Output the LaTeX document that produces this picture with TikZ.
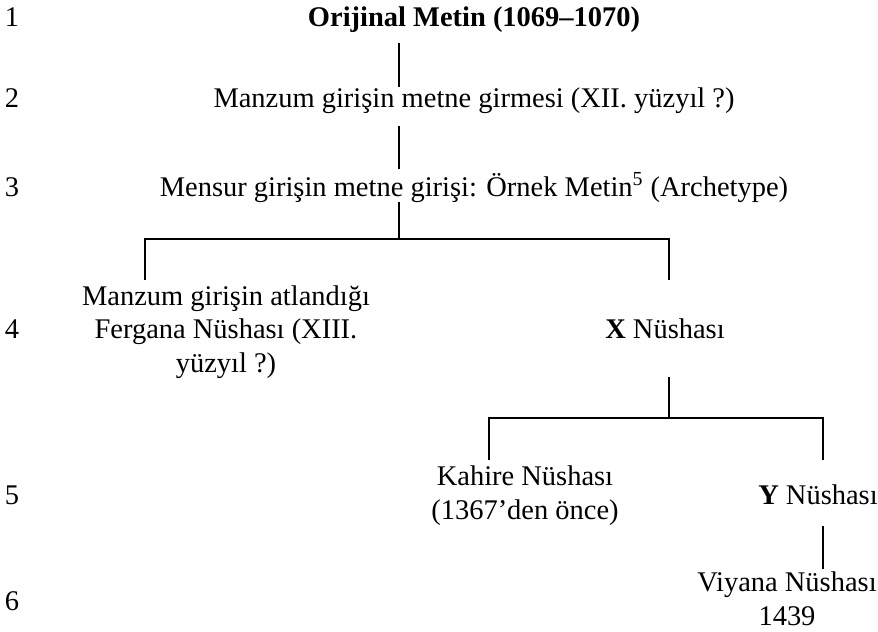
\documentclass[tikz,border=0pt]{standalone}
\usepackage{fontspec}
\setmainfont{Liberation Serif}
\tikzset{
    txt/.style ={font=\fontsize{16.2}{18.8}\selectfont, align=center,
                 inner sep=0pt, anchor=base},
    num/.style ={txt},
    ln/.style  ={line width=1.1pt, draw=black}
}

\begin{document}
\begin{tikzpicture}[x=1cm, y=1cm]
  \useasboundingbox (0,0) rectangle (17.56,-12.62);

  % row numbers
  \node[num] (n1) at (0.24,-0.54)  {1};
  \node[num] (n2) at (0.24,-2.16)  {2};
  \node[num] (n3) at (0.24,-3.94)  {3};
  \node[num] (n4) at (0.24,-6.76)  {4};
  \node[num] (n5) at (0.24,-10.08) {5};
  \node[num] (n6) at (0.24,-12.20) {6};

  % copies (multi-line nodes sit on their last line)
  \node[txt] (orig) at (9.48,-0.54) {\textbf{Orijinal Metin (1069–1070)}};
  \node[txt] (manz) at (9.48,-2.16) {Manzum girişin metne girmesi (XII. yüzyıl ?)};
  \node[txt] (arch) at (9.48,-3.94)
       {Mensur girişin metne girişi: Örnek Metin\textsuperscript{5} (Archetype)};
  \node[txt] (ferg) at (4.52,-7.44) {Manzum girişin atlandığı\\Fergana Nüshası (XIII.\\yüzyıl ?)};
  \node[txt] (xn)   at (13.30,-6.76) {\textbf{X} Nüshası};
  \node[txt] (kah)  at (10.50,-10.38) {Kahire Nüshası\\(1367’den önce)};
  \node[txt] (yn)   at (16.36,-10.08) {\textbf{Y} Nüshası};
  \node[txt] (viy)  at (15.74,-12.50) {Viyana Nüshası\\1439};

  % line ends and forks
  \coordinate (t1)  at (7.98,-0.86);
  \coordinate (b1)  at (7.98,-1.74);
  \coordinate (t2)  at (7.98,-2.52);
  \coordinate (b2)  at (7.98,-3.38);
  \coordinate (t3)  at (7.98,-4.04);
  \coordinate (f1l) at (2.90,-4.78);
  \coordinate (f1r) at (13.38,-4.78);
  \coordinate (t4)  at (13.38,-7.54);
  \coordinate (f2l) at (9.78,-8.36);
  \coordinate (f2r) at (16.46,-8.36);
  \coordinate (t5)  at (16.46,-10.52);
  \coordinate (b5)  at (16.46,-11.38);

  \draw[ln] (t1) -- (b1);
  \draw[ln] (t2) -- (b2);
  \draw[ln] (t3) -- (t3 |- f1l);
  \draw[ln] ([yshift=-0.82cm]f1l) -- (f1l) -- (f1r) -- ([yshift=-0.82cm]f1r);
  \draw[ln] (t4) -- (t4 |- f2l);
  \draw[ln] ([yshift=-0.84cm]f2l) -- (f2l) -- (f2r) -- ([yshift=-0.84cm]f2r);
  \draw[ln] (t5) -- (b5);
\end{tikzpicture}
\end{document}
